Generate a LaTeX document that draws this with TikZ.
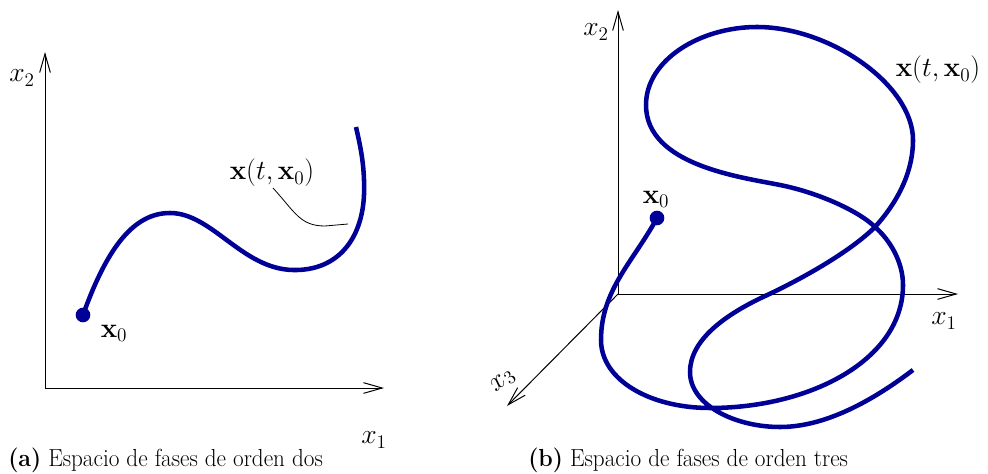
\documentclass[tikz,border=0pt]{standalone}
\usepackage{amsmath}
\usepackage{graphicx}
\usetikzlibrary{arrows.meta}
\definecolor{traj}{RGB}{0,0,150}
\begin{document}
\begin{tikzpicture}[x=0.75pt,y=-0.75pt,
  ax/.style={line width=0.75pt,-{Straight Barb[length=14pt,width=8pt,line width=0.75pt]}},
  curve/.style={traj,line width=3.4pt},
  dotnode/.style={circle,fill=traj,inner sep=0pt,minimum size=11pt},
  lbl/.style={font=\fontsize{22}{26}\selectfont,inner sep=1pt},
  captxt/.style={font=\fontsize{18.5}{22}\selectfont,inner sep=0pt,anchor=base west}]
\useasboundingbox (0,0) rectangle (988,474);
% ---------- left plot ----------
\coordinate (oa) at (45,388);
\coordinate (ya) at (45,52);
\coordinate (xa) at (384,388);
\draw[ax] (oa) -- (ya);
\draw[ax] (oa) -- (xa);
\node[lbl] (x2a) at (22,78) {$x_2$};
\node[lbl] (x1a) at (374,440) {$x_1$};
\draw[curve] (83,315) .. controls (108,245) and (135,213) .. (170,213)
  .. controls (212,213) and (242,269) .. (293,270)
  .. controls (337,271) and (362,240) .. (364,195)
  .. controls (365,165) and (360,145) .. (356,127);
\node[dotnode] (d0a) at (83,315) {};
\node[lbl] (x0a) at (114,333) {$\mathbf{x}_0$};
\node[lbl] (xta) at (272,173) {$\mathbf{x}(t,\mathbf{x}_0)$};
\coordinate (la) at (348,224);
\coordinate (lb) at (273,188);
\draw[line width=0.6pt] (lb) .. controls (295,212) and (300,226) .. (325,226) -- (la);
% ---------- right plot ----------
\coordinate (ob) at (618,294);
\coordinate (yb) at (618,10);
\coordinate (xb) at (958,294);
\coordinate (zb) at (507,406);
\draw[ax] (ob) -- (yb);
\draw[ax] (ob) -- (xb);
\draw[ax] (ob) -- (zb);
\node[lbl] (x2b) at (596,32) {$x_2$};
\node[lbl] (x1b) at (944,321) {$x_1$};
\node[lbl,rotate=40] (x3b) at (503,381) {$x_3$};
\draw[curve] (657,218) .. controls (633,262) and (601,290) .. (601,340)
  .. controls (601,380) and (650,408) .. (710,408)
  .. controls (810,408) and (903,360) .. (903,285)
  .. controls (903,262) and (890,240) .. (875,227)
  .. controls (860,212) and (820,193) .. (780,185)
  .. controls (740,177) and (646,165) .. (646,105)
  .. controls (646,60) and (700,27) .. (757,27)
  .. controls (830,27) and (913,85) .. (913,140)
  .. controls (913,175) and (895,205) .. (875,227)
  .. controls (850,252) and (800,280) .. (763,297)
  .. controls (725,315) and (690,340) .. (690,372)
  .. controls (690,405) and (735,427) .. (780,427)
  .. controls (830,427) and (880,395) .. (913,370);
\node[dotnode] (d0b) at (657,218) {};
\node[lbl] (x0b) at (656,199) {$\mathbf{x}_0$};
\node[lbl] (xtb) at (938,70) {$\mathbf{x}(t,\mathbf{x}_0)$};
% ---------- captions ----------
\node[captxt] (capa) at (8,466) {\scalebox{0.94}[1]{{\bfseries (a)} Espacio de fases de orden dos}};
\node[captxt] (capb) at (528,466) {\scalebox{0.94}[1]{{\bfseries (b)} Espacio de fases de orden tres}};
\end{tikzpicture}
\end{document}
